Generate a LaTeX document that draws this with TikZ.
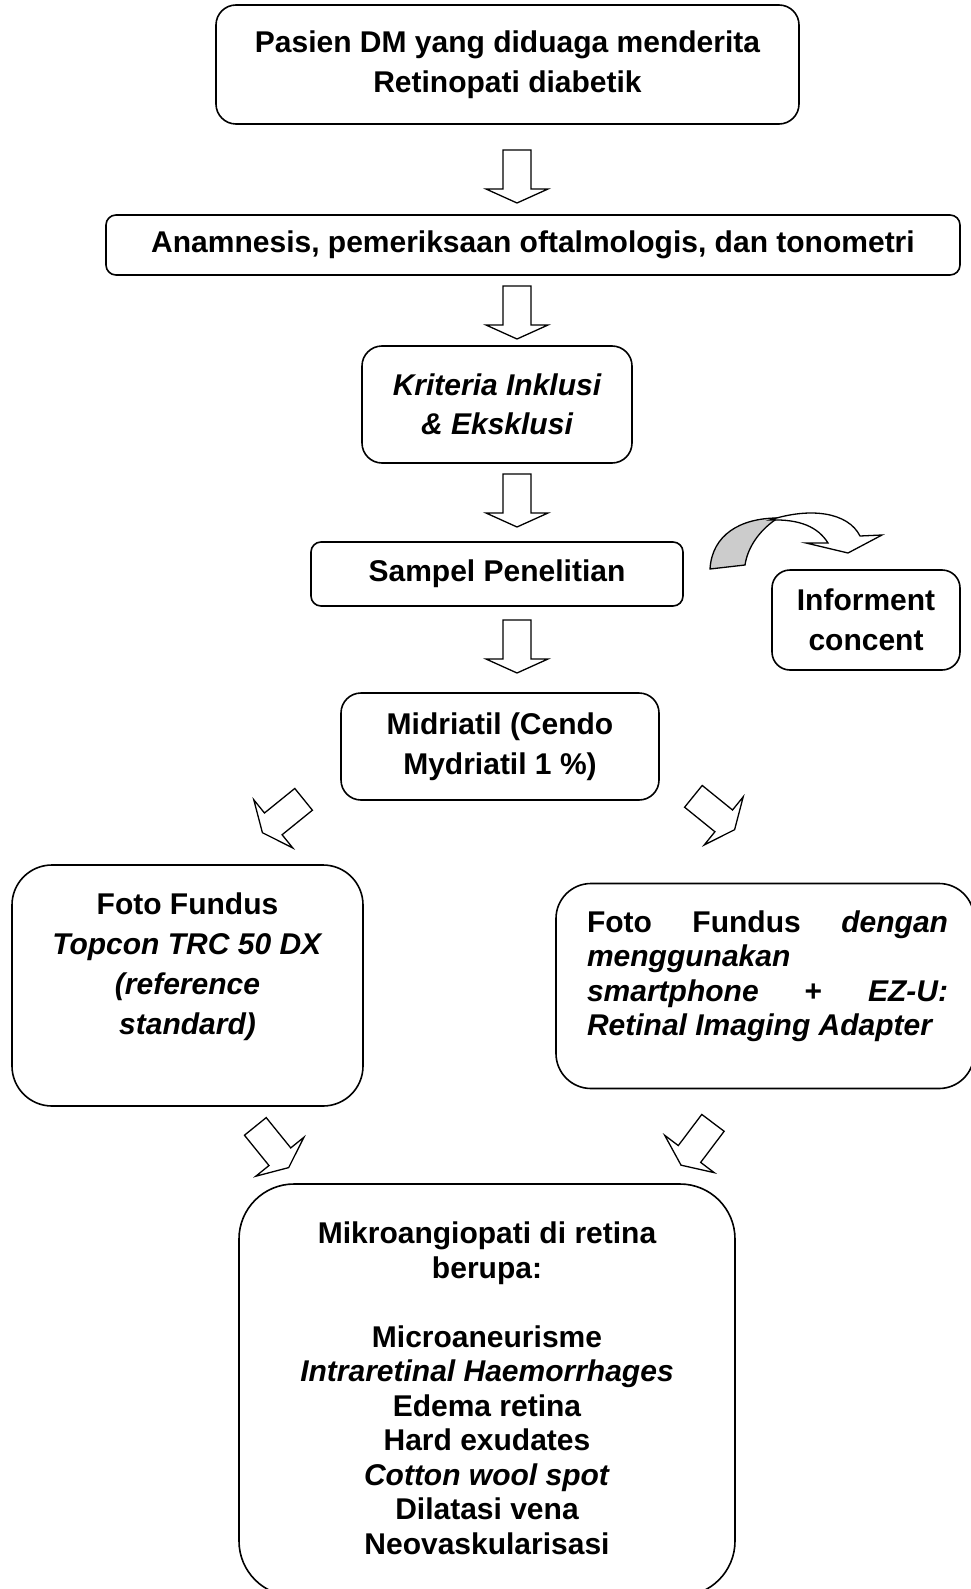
\documentclass[tikz,border=0pt]{standalone}
\usepackage{fontspec}
\setmainfont{Liberation Sans}
\usetikzlibrary{calc}

\begin{document}
\begin{tikzpicture}[x=1pt,y=-1pt,line width=1.6pt,
   every node/.style={font=\fontsize{30}{40}\selectfont\bfseries,align=center,inner sep=0pt},
   kotak/.style={draw,rounded corners=#1},kotak/.default=18pt,
   panah/.pic={\draw[line width=1.3pt,fill=white] (-14,-26.5) -- (14,-26.5) -- (14,12.5)
      -- (31,12.5) -- (0,26.5) -- (-31,12.5) -- (-14,12.5) -- cycle;}]
\useasboundingbox (0,0) rectangle (970,1589);

\node[kotak=20pt,minimum width=583pt,minimum height=119pt] (pasien) at (507.5,64.5)
   {Pasien DM yang diduaga menderita\\Retinopati diabetik};
\node[kotak=10pt,minimum width=854pt,minimum height=60pt] (anam) at (533,245)
   {Anamnesis, pemeriksaan oftalmologis, dan tonometri};
\node[kotak=20pt,minimum width=270pt,minimum height=117pt,font=\fontsize{30}{39}\selectfont\bfseries\itshape] (krit) at (497,404.5)
   {Kriteria Inklusi\\\& Eksklusi};
\node[kotak=10pt,minimum width=372pt,minimum height=64pt] (sampel) at (497,574) {Sampel Penelitian};
\node[kotak,minimum width=188pt,minimum height=100pt] (inform) at (866,620) {Informent\\concent};
\node[kotak=20pt,minimum width=318pt,minimum height=107pt] (midr) at (500,746.5)
   {Midriatil (Cendo\\Mydriatil 1 \%)};
\node[kotak=40pt,minimum width=351pt,minimum height=241pt] (kiri) at (187.5,985.5) {};
\node[anchor=north] (kiriT) at ($(kiri.north)+(0,28)$)
   {Foto Fundus\\\textit{Topcon TRC 50 DX}\\\textit{(reference}\\\textit{standard)}};
\node[kotak=35pt,minimum width=418pt,minimum height=205pt] (kanan) at (765,986) {};
\node[anchor=north west,text width=361pt,align=justify,font=\fontsize{30}{34.5}\selectfont\bfseries] (kananT)
   at ($(kanan.north west)+(31,27)$)
   {Foto\hfill Fundus\hfill \textit{dengan}\\\textit{menggunakan}\\
    \textit{smartphone}\hfill +\hfill \textit{EZ-U:}\\\textit{Retinal Imaging Adapter}};
\node[kotak=55pt,minimum width=496pt,minimum height=412pt] (bawah) at (487,1390) {};
\node[anchor=north,font=\fontsize{30}{34.5}\selectfont\bfseries] (bawahT) at ($(bawah.north)+(0,38)$)
   {Mikroangiopati di retina\\berupa:\\[34.5pt]Microaneurisme\\\textit{Intraretinal Haemorrhages}\\
    Edema retina\\Hard exudates\\\textit{Cotton wool spot}\\Dilatasi vena\\Neovaskularisasi};

\pic at (517,176.5) {panah};
\pic at (517,312.5) {panah};
\pic at (517,500.5) {panah};
\pic at (517,646.5) {panah};
\pic[rotate=-51] at (283,816) {panah};
\pic[rotate=51] at (714,813) {panah};
\pic[rotate=39] at (272,1147) {panah};
\pic[rotate=-37] at (697,1144) {panah};

\draw[line width=1.3pt,fill=gray!40] (710,569) .. controls (712,535) and (740,518) .. (778,518)
   .. controls (762,528) and (748,545) .. (745,565) -- cycle;
\draw[line width=1.3pt,fill=white] (770,520) .. controls (810,507) and (848,512) .. (860,536)
   -- (882,535) -- (848,553) -- (806,543) -- (828,543) .. controls (818,527) and (800,519) .. (770,520) -- cycle;
\end{tikzpicture}
\end{document}
